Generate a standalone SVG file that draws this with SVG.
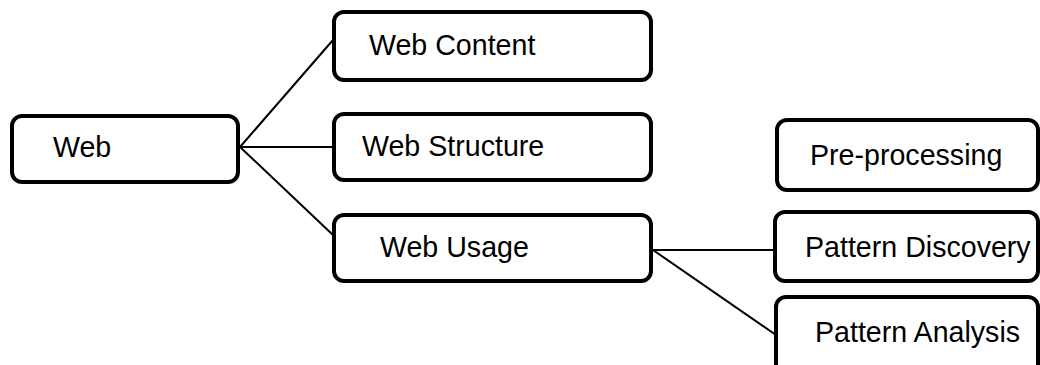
<svg xmlns="http://www.w3.org/2000/svg" width="1040" height="365" viewBox="0 0 1040 365">
<style>
.box{fill:#fff;stroke:#000;stroke-width:4}
.lbl{font-family:"Liberation Sans",Arial,sans-serif;font-size:28.6px;fill:#000}
.conn{stroke:#000;stroke-width:2;fill:none}
</style>
<rect width="1040" height="365" fill="#fff"/>
<g id="connectors">
<line class="conn" x1="240" y1="147" x2="333" y2="40"/>
<line class="conn" x1="240" y1="147" x2="333" y2="147"/>
<line class="conn" x1="240" y1="147" x2="333" y2="235"/>
<line class="conn" x1="653" y1="250" x2="775" y2="250"/>
<line class="conn" x1="653" y1="250" x2="776" y2="335"/>
</g>
<g id="node-web"><rect class="box" x="12" y="116" width="226" height="66" rx="10"/><text class="lbl" x="53" y="157">Web</text></g>
<g id="node-web-content"><rect class="box" x="334" y="12" width="317" height="68" rx="10"/><text class="lbl" x="369" y="55">Web Content</text></g>
<g id="node-web-structure"><rect class="box" x="334" y="114" width="317" height="66" rx="10"/><text class="lbl" x="362" y="156">Web Structure</text></g>
<g id="node-web-usage"><rect class="box" x="334" y="215" width="317" height="66" rx="10"/><text class="lbl" x="380" y="257">Web Usage</text></g>
<g id="node-preprocessing"><rect class="box" x="777" y="120" width="261" height="70" rx="10"/><text class="lbl" x="810" y="165">Pre-processing</text></g>
<g id="node-pattern-discovery"><rect class="box" x="775" y="212" width="263" height="69" rx="10"/><text class="lbl" x="805" y="257">Pattern Discovery</text></g>
<g id="node-pattern-analysis"><rect class="box" x="776" y="297" width="262" height="80" rx="10"/><text class="lbl" x="815" y="342">Pattern Analysis</text></g>
</svg>
